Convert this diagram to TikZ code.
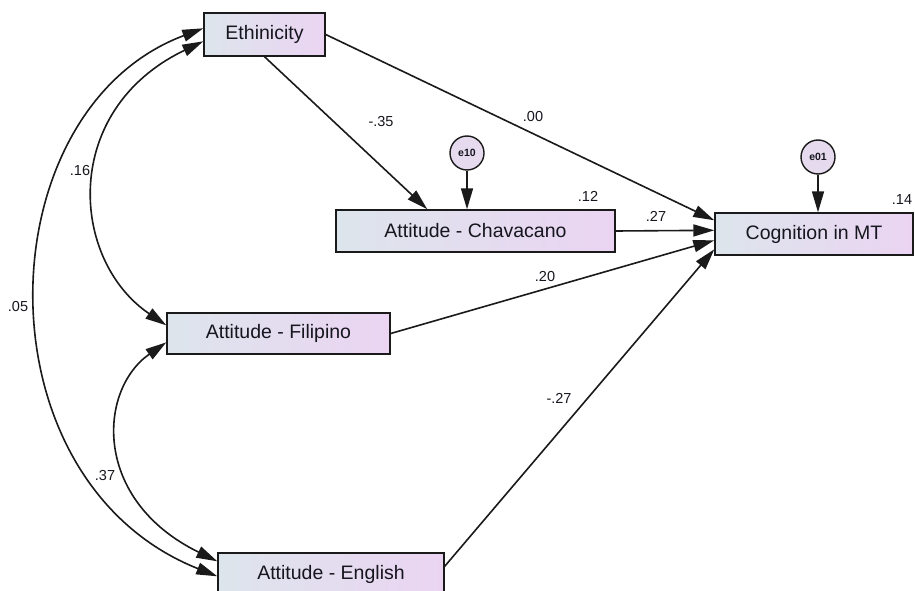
\documentclass[tikz,border=0pt]{standalone}
\usepackage{fontspec}
\setmainfont{Liberation Sans}
\usetikzlibrary{arrows.meta,calc}
\definecolor{boxL}{HTML}{DDE5EC}
\definecolor{boxR}{HTML}{EBD4F2}
\definecolor{errfill}{HTML}{E6DAEE}
\definecolor{ink}{HTML}{1A1A1A}
\definecolor{txt}{HTML}{16161E}
\tikzset{
 var/.style={draw=ink, line width=1.4pt, left color=boxL, right color=boxR, inner sep=0pt, text=txt, font=\fontsize{19.5}{22}\selectfont},
 err/.style={circle, draw=ink, line width=1.4pt, fill=errfill, minimum size=34pt, inner sep=0pt, text=txt, font=\bfseries\fontsize{10.5}{12}\selectfont},
 reg/.style={draw=ink, line width=1.6pt, -{Triangle[length=21pt,width=12pt]}},
 cov/.style={draw=ink, line width=1.6pt, {Triangle[length=21pt,width=12pt]}-{Triangle[length=21pt,width=12pt]}},
 coef/.style={font=\fontsize{14.5}{16}\selectfont, inner sep=0pt, text=txt}
}
\begin{document}
\begin{tikzpicture}[x=1pt,y=-1pt]
\useasboundingbox (0,0) rectangle (915,591);
\fill[white] (0,0) rectangle (915,591);
% variables
\node[var, minimum width=121pt, minimum height=43pt] (eth) at (264.5,34.5) {Ethinicity};
\node[var, minimum width=279pt, minimum height=42pt] (chav) at (475.5,231) {Attitude - Chavacano};
\node[var, minimum width=198pt, minimum height=42pt] (cog) at (814,234) {Cognition in MT};
\node[var, minimum width=223pt, minimum height=41pt] (fil) at (278.5,333.5) {Attitude - Filipino};
\node[var, minimum width=226pt, minimum height=43pt] (eng) at (331,574.5) {Attitude - English};
% errors
\node[err] (e10) at (467,153) {e10};
\node[err] (e01) at (818,157) {e01};
% regressions
\draw[reg] (eth.south) -- ($(chav.north west)+(92,0)$);
\draw[reg] (eth.east) -- ($(cog.north west)+(0,8)$);
\draw[reg] (chav.east) -- ($(cog.north west)+(0,18)$);
\draw[reg] (fil.east) -- ($(cog.north west)+(0,28)$);
\draw[reg] ($(eng.north east)+(0,14)$) -- ($(cog.north west)+(0,37)$);
\draw[reg] (e10.south) -- (e10.south |- chav.north);
\draw[reg] (e01.south) -- (e01.south |- cog.north);
% covariances
\draw[cov] ($(eth.north west)+(0,16)$) .. controls (-15,110) and (-25,480) .. ($(eng.north west)+(0,24)$);
\draw[cov] ($(eth.north west)+(0,29)$) .. controls (60,110) and (70,260) .. ($(fil.north west)+(0,13)$);
\draw[cov] ($(fil.north west)+(0,30)$) .. controls (98,390) and (92,500) .. ($(eng.north west)+(0,9)$);
% coefficients
\node[coef] (c1) at (381,122) {-.35};
\node[coef] (c2) at (533,117) {.00};
\node[coef] (c3) at (588,196) {.12};
\node[coef] (c4) at (656,216) {.27};
\node[coef] (c5) at (902,200) {.14};
\node[coef] (c6) at (545,277) {.20};
\node[coef] (c7) at (559,398) {-.27};
\node[coef] (c8) at (80,171) {.16};
\node[coef] (c9) at (18,307) {.05};
\node[coef] (c10) at (105,476) {.37};
\end{tikzpicture}
\end{document}
